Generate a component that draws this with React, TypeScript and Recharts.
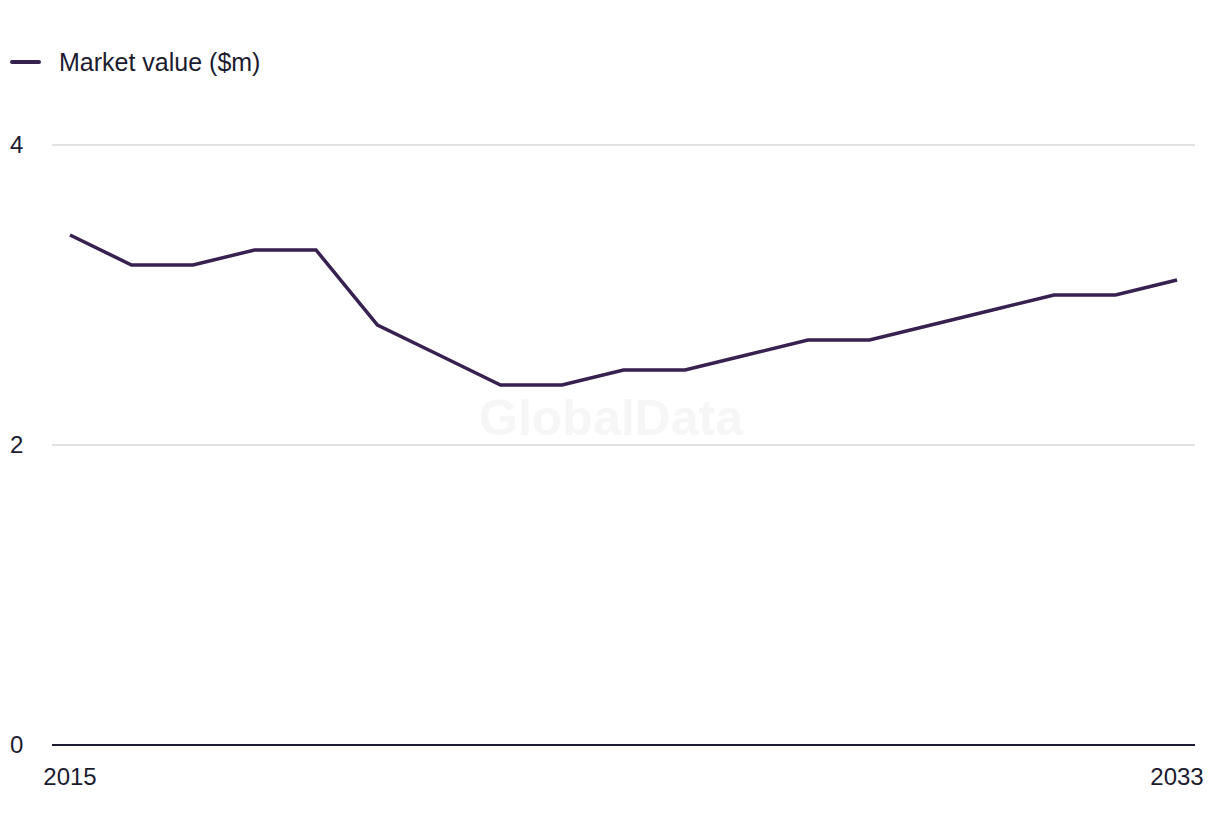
import React from "react";
import { LineChart, Line, XAxis, YAxis, CartesianGrid } from "recharts";

const years = [2015, 2016, 2017, 2018, 2019, 2020, 2021, 2022, 2023, 2024, 2025, 2026, 2027, 2028, 2029, 2030, 2031, 2032, 2033];
const marketValue = [3.4, 3.2, 3.2, 3.3, 3.3, 2.8, 2.6, 2.4, 2.4, 2.5, 2.5, 2.6, 2.7, 2.7, 2.8, 2.9, 3.0, 3.0, 3.1];
const yTicks = [0, 2, 4];
const xTicks = [2015, 2033];
const seriesName = "Market value ($m)";

const data = years.map((y, i) => ({ year: y, value: marketValue[i] }));

const TEXT = "#1c1c30";
const LINE = "#37214f";
const FONT = "'Liberation Sans', Arial, sans-serif";

const YTick = (props: any) => {
  const { y, payload } = props;
  return (
    <text x={10} y={y} dy={8} textAnchor="start" fontSize={24} fill={TEXT} fontFamily={FONT}>
      {payload.value}
    </text>
  );
};

const XTick = (props: any) => {
  const { x, y, payload } = props;
  return (
    <text x={x} y={y} dy={32} textAnchor="middle" fontSize={24} fill={TEXT} fontFamily={FONT}>
      {payload.value}
    </text>
  );
};

export default function App() {
  return (
    <div style={{ position: "absolute", left: 0, top: 0, width: 1220, height: 836, background: "#fff", fontFamily: FONT }}>
      <div style={{ position: "absolute", left: 10, top: 46, display: "flex", alignItems: "center", height: 32 }}>
        <div style={{ width: 31, height: 4, background: LINE, borderRadius: 2 }} />
        <span style={{ marginLeft: 18, fontSize: 25, color: TEXT, fontFamily: FONT }}>{seriesName}</span>
      </div>
      <div style={{ position: "absolute", left: 0, top: 0 }}>
        <LineChart width={1220} height={836} data={data} margin={{ top: 145, right: 25, bottom: 51, left: 0 }}>
          <text x={611} y={435} textAnchor="middle" fontSize={50} fontWeight={700} fill="#f6f6f6" fontFamily={FONT}>
            GlobalData
          </text>
          <CartesianGrid vertical={false} stroke="#d9d9d9" strokeWidth={1.5} />
          <XAxis
            dataKey="year"
            type="number"
            domain={[2015, 2033]}
            ticks={xTicks}
            padding={{ left: 18, right: 18 }}
            axisLine={{ stroke: TEXT, strokeWidth: 2 }}
            tickLine={false}
            tick={<XTick />}
            height={40}
          />
          <YAxis
            domain={[0, 4]}
            ticks={yTicks}
            axisLine={false}
            tickLine={false}
            tick={<YTick />}
            width={52}
          />
          <Line
            type="linear"
            dataKey="value"
            stroke={LINE}
            strokeWidth={3.5}
            dot={false}
            isAnimationActive={false}
          />
        </LineChart>
      </div>
    </div>
  );
}
